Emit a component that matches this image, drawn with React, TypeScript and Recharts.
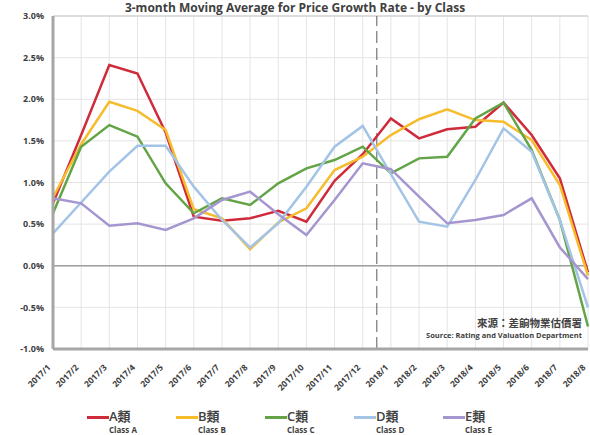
import { LineChart, Line, XAxis, YAxis, CartesianGrid, ReferenceLine } from "recharts"

// Month labels on the category axis
const months = [
    "2017/1", "2017/2", "2017/3", "2017/4", "2017/5", "2017/6", "2017/7", "2017/8", "2017/9", "2017/10",
    "2017/11", "2017/12", "2018/1", "2018/2", "2018/3", "2018/4", "2018/5", "2018/6", "2018/7", "2018/8",
]

// 3-month moving average of price growth rate (%), per class
const classA = [0.75, 1.57, 2.41, 2.31, 1.6, 0.59, 0.54, 0.57, 0.66, 0.53, 1.02, 1.34, 1.77, 1.53, 1.64, 1.67, 1.96, 1.57, 1.05, -0.08]
const classB = [0.82, 1.46, 1.97, 1.86, 1.63, 0.68, 0.57, 0.2, 0.52, 0.69, 1.15, 1.31, 1.57, 1.76, 1.88, 1.75, 1.73, 1.51, 0.97, -0.12]
const classC = [0.63, 1.43, 1.69, 1.55, 0.99, 0.63, 0.81, 0.73, 0.99, 1.17, 1.27, 1.43, 1.11, 1.29, 1.31, 1.77, 1.96, 1.39, 0.55, -0.73]
const classD = [0.39, 0.76, 1.13, 1.44, 1.44, 0.95, 0.55, 0.22, 0.51, 0.95, 1.43, 1.68, 1.1, 0.53, 0.47, 1.03, 1.65, 1.37, 0.55, -0.5]
const classE = [0.81, 0.75, 0.48, 0.51, 0.43, 0.57, 0.79, 0.89, 0.62, 0.37, 0.79, 1.23, 1.16, 0.83, 0.51, 0.55, 0.61, 0.81, 0.22, -0.16]

const yTicks = [-1, -0.5, 0, 0.5, 1, 1.5, 2, 2.5, 3]

const series = [
    { key: "a", zh: "A類", en: "Class A", color: "#CF2B3B", values: classA },
    { key: "b", zh: "B類", en: "Class B", color: "#F6BC2C", values: classB },
    { key: "c", zh: "C類", en: "Class C", color: "#62A446", values: classC },
    { key: "d", zh: "D類", en: "Class D", color: "#A3C4E6", values: classD },
    { key: "e", zh: "E類", en: "Class E", color: "#A596D0", values: classE },
]

const data = months.map((month, i) => {
    const row: Record<string, number | string> = { idx: i, month }
    series.forEach((s) => {
        row[s.key] = s.values[i]
    })
    return row
})

// dashed divider sits between the last month of 2017 and the first of 2018
const yearBreak = months.indexOf("2018/1") - 0.5

const FONT = "'Open Sans', 'Noto Sans CJK TC', sans-serif"
const TEXT = "#404040"

const MonthTick = (props: any) => {
    const { x, y, payload } = props
    return (
        <g transform={`translate(${x - 4},${y + 9})`}>
            <text
                transform="rotate(-45)"
                textAnchor="end"
                dy="0.35em"
                fontSize={8.5}
                fontWeight={700}
                fill={TEXT}
                fontFamily={FONT}
            >
                {months[payload.value]}
            </text>
        </g>
    )
}

export default function App() {
    return (
        <div style={{ position: "absolute", left: 0, top: 0, width: 590, height: 435, background: "#fff", overflow: "hidden", fontFamily: FONT }}>
            <div
                style={{
                    position: "absolute",
                    top: 0,
                    left: 0,
                    width: 590,
                    textAlign: "center",
                    fontSize: 12,
                    lineHeight: "15px",
                    fontWeight: 700,
                    color: TEXT,
                    whiteSpace: "nowrap",
                }}
            >
                3-month Moving Average for Price Growth Rate - by Class
            </div>
            <LineChart width={590} height={435} data={data} margin={{ top: 16, right: 2, left: 0, bottom: 0 }}>
                <CartesianGrid stroke="#E4E4E4" strokeWidth={1} />
                <XAxis
                    type="number"
                    dataKey="idx"
                    domain={[0, months.length - 1]}
                    ticks={months.map((_, i) => i)}
                    interval={0}
                    height={86}
                    tickLine={false}
                    axisLine={{ stroke: "#A6A6A6", strokeWidth: 3 }}
                    tick={<MonthTick />}
                />
                <YAxis
                    type="number"
                    domain={[-1, 3]}
                    ticks={yTicks}
                    width={53}
                    tickLine={false}
                    tickMargin={3}
                    axisLine={{ stroke: "#A6A6A6", strokeWidth: 3 }}
                    tickFormatter={(v: number) => `${v.toFixed(1)}%`}
                    tick={{ fontSize: 9, fontWeight: 700, fill: TEXT, fontFamily: FONT }}
                />
                <ReferenceLine y={3} stroke="#D4D4D4" strokeWidth={1.5} />
                <ReferenceLine y={0} stroke="#9E9E9E" strokeWidth={1.5} />
                <ReferenceLine x={yearBreak} stroke="#5A5A5A" strokeWidth={1} strokeDasharray="12 5" />
                {series.map((s) => (
                    <Line
                        key={s.key}
                        type="linear"
                        dataKey={s.key}
                        stroke={s.color}
                        strokeWidth={2.5}
                        dot={false}
                        isAnimationActive={false}
                    />
                ))}
            </LineChart>
            <div
                style={{
                    position: "absolute",
                    right: 8,
                    top: 316,
                    textAlign: "right",
                    color: TEXT,
                    fontWeight: 700,
                }}
            >
                <div style={{ fontSize: 10.5, lineHeight: "14px" }}>來源：差餉物業估價署</div>
                <div style={{ fontSize: 7.5, lineHeight: "11px" }}>Source: Rating and Valuation Department</div>
            </div>
            <div style={{ position: "absolute", left: 87, top: 408, display: "flex" }}>
                {series.map((s) => (
                    <div key={s.key} style={{ width: 89, display: "flex" }}>
                        <div style={{ width: 22, height: 3, background: s.color, marginTop: 8 }} />
                        <div style={{ color: TEXT }}>
                            <div style={{ fontSize: 13, lineHeight: "17px", fontWeight: 600 }}>{s.zh}</div>
                            <div style={{ fontSize: 8, lineHeight: "10px", fontWeight: 700 }}>{s.en}</div>
                        </div>
                    </div>
                ))}
            </div>
        </div>
    )
}
